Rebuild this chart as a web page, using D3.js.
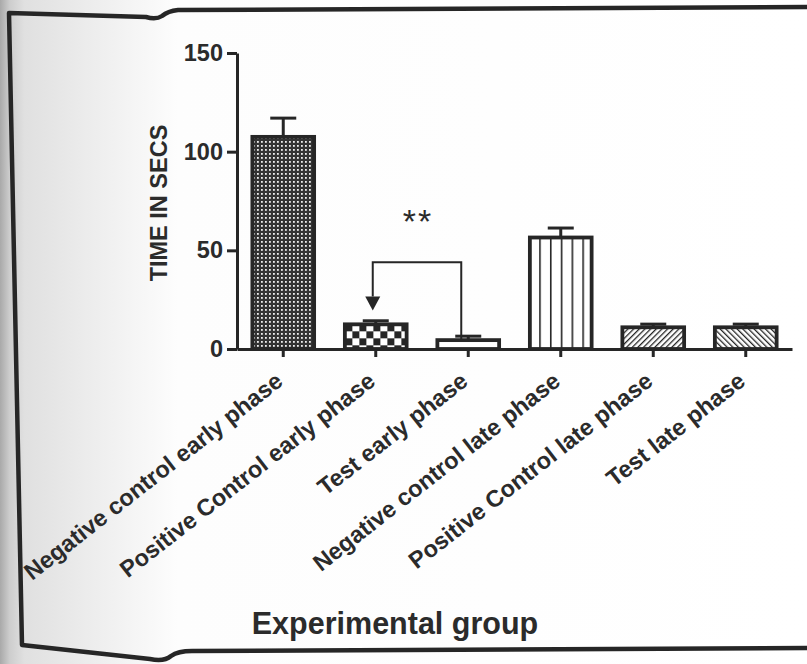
<!DOCTYPE html>
<html>
<head>
<meta charset="utf-8">
<script src="https://cdn.jsdelivr.net/npm/d3@7"></script>
<style>
  body { margin: 0; background: #fff; }
  svg text { font-family: "Liberation Sans", Arial, sans-serif; fill: #2b2b2b; }
</style>
</head>
<body>
<svg id="chart" width="807" height="664"></svg>
<script>
// groups, mean time and error bar (SEM)
const groups = ["Negative control early phase", "Positive Control early phase", "Test early phase",
  "Negative control late phase", "Positive Control late phase", "Test late phase"];
const meanTime = [107.5, 12.5, 4.5, 56.5, 11, 11];
const errTime = [9.5, 1.8, 2, 4.8, 1.6, 1.6];
const fillIds = ["fineCheck", "bigCheck", "plain", "vLines", "fwdHatch", "backHatch"];
const yTicks = [0, 50, 100, 150];

// significance bracket, positive control vs test (early phase)
const sigFrom = "Positive Control early phase";
const sigTo = "Test early phase";
const sigLevel = 44;
const sigArrowTip = 19.5;
const sigLabel = "**";

const ink = "#262626";
var svg = d3.select("#chart");

var x = d3.scaleBand()
  .domain(groups)
  .range([237, 792])
  .paddingInner(0.3)
  .paddingOuter(0.15);

var y = d3.scaleLinear()
  .domain([0, 150])
  .range([349, 53]);

var bw = x.bandwidth();

// ---- background (scan shading on the left) + paper frame
var defs = svg.append("defs");
var grad = defs.append("linearGradient").attr("id", "shade")
  .attr("x1", 0).attr("x2", 1).attr("y1", 0).attr("y2", 0);
grad.append("stop").attr("offset", "0").attr("stop-color", "#a9a9a9");
grad.append("stop").attr("offset", "0.012").attr("stop-color", "#cdcdcd");
grad.append("stop").attr("offset", "0.03").attr("stop-color", "#e0e0e0");
grad.append("stop").attr("offset", "0.14").attr("stop-color", "#f1f1f1");
grad.append("stop").attr("offset", "0.22").attr("stop-color", "#fdfdfd");
grad.append("stop").attr("offset", "1").attr("stop-color", "#ffffff");

svg.append("rect").attr("width", 807).attr("height", 664).attr("fill", "url(#shade)");

svg.append("path")
  .attr("d", "M807,7 L178,10 Q168,11 162,16 Q156,20 146,17 L9,13 L22,645 L150,659 Q164,662 171,656 Q178,651 192,651 L807,648")
  .attr("fill", "none")
  .attr("stroke", ink)
  .attr("stroke-width", 4.5)
  .attr("stroke-linejoin", "round");

// ---- fill patterns
var p = defs.append("pattern").attr("id", "fineCheck")
  .attr("patternUnits", "userSpaceOnUse").attr("width", 4).attr("height", 4);
p.append("rect").attr("width", 4).attr("height", 4).attr("fill", "#333");
p.append("rect").attr("x", 1).attr("y", 1).attr("width", 1.8).attr("height", 1.8).attr("fill", "#eee");

p = defs.append("pattern").attr("id", "bigCheck")
  .attr("patternUnits", "userSpaceOnUse").attr("width", 14).attr("height", 14)
  .attr("x", x(groups[1]) + 2).attr("y", y(meanTime[1]));
p.append("rect").attr("width", 14).attr("height", 14).attr("fill", "#fff");
p.append("rect").attr("width", 7).attr("height", 7).attr("fill", ink);
p.append("rect").attr("x", 7).attr("y", 7).attr("width", 7).attr("height", 7).attr("fill", ink);

p = defs.append("pattern").attr("id", "plain")
  .attr("patternUnits", "userSpaceOnUse").attr("width", 4).attr("height", 4);
p.append("rect").attr("width", 4).attr("height", 4).attr("fill", "#fff");

p = defs.append("pattern").attr("id", "vLines")
  .attr("patternUnits", "userSpaceOnUse").attr("width", bw / 6).attr("height", 10)
  .attr("x", x(groups[3]));
p.append("rect").attr("width", bw / 6).attr("height", 10).attr("fill", "#fff");
p.append("rect").attr("width", 1.6).attr("height", 10).attr("fill", ink);

[["fwdHatch", 45], ["backHatch", -45]].forEach(h => {
  var hp = defs.append("pattern").attr("id", h[0])
    .attr("patternUnits", "userSpaceOnUse").attr("width", 4).attr("height", 4)
    .attr("patternTransform", `rotate(${h[1]})`);
  hp.append("rect").attr("width", 4).attr("height", 4).attr("fill", "#fff");
  hp.append("rect").attr("width", 1.3).attr("height", 4).attr("fill", ink);
});

// ---- error bars
var errG = svg.append("g").attr("stroke", ink).attr("stroke-width", 3);
groups.forEach((g, i) => {
  var cx = x(g) + bw / 2;
  errG.append("line")
    .attr("x1", cx).attr("x2", cx)
    .attr("y1", y(meanTime[i])).attr("y2", y(meanTime[i] + errTime[i]));
  errG.append("line")
    .attr("x1", cx - 13).attr("x2", cx + 13)
    .attr("y1", y(meanTime[i] + errTime[i])).attr("y2", y(meanTime[i] + errTime[i]));
});

// ---- bars
svg.append("g").selectAll("rect")
  .data(groups)
  .enter()
  .append("rect")
  .attr("x", d => x(d) + 1.5)
  .attr("y", (d, i) => y(meanTime[i]))
  .attr("width", bw - 3)
  .attr("height", (d, i) => y(0) - y(meanTime[i]))
  .attr("fill", (d, i) => `url(#${fillIds[i]})`)
  .attr("stroke", ink)
  .attr("stroke-width", 3.8);

// ---- axes
var yAxis = svg.append("g")
  .attr("transform", `translate(${x.range()[0]},0)`)
  .attr("color", ink)
  .call(d3.axisLeft(y).tickValues(yTicks).tickSize(10).tickSizeOuter(0).tickPadding(4));
yAxis.selectAll("path, line").attr("stroke-width", 3);
yAxis.selectAll("text")
  .attr("font-family", "Liberation Sans, Arial, sans-serif")
  .attr("font-size", 23.5)
  .attr("font-weight", "bold");

var xAxis = svg.append("g")
  .attr("transform", `translate(0,${y(0)})`)
  .attr("color", ink)
  .call(d3.axisBottom(x).tickSize(8).tickSizeOuter(0).tickFormat(""));
xAxis.selectAll("path, line").attr("stroke-width", 3);

// rotated category labels
svg.append("g").selectAll("text")
  .data(groups)
  .enter()
  .append("text")
  .attr("transform", d => `translate(${x(d) + bw / 2 + 1},${y(0) + 35}) rotate(-38)`)
  .attr("text-anchor", "end")
  .attr("font-size", 23.5)
  .attr("font-weight", "bold")
  .text(d => d);

// axis titles
svg.append("text")
  .attr("transform", "translate(167,203) rotate(-90)")
  .attr("text-anchor", "middle")
  .attr("font-size", 23.5)
  .attr("font-weight", "bold")
  .text("TIME IN SECS");

svg.append("text")
  .attr("x", 395)
  .attr("y", 634)
  .attr("text-anchor", "middle")
  .attr("font-size", 30.5)
  .attr("font-weight", "bold")
  .text("Experimental group");

// ---- significance bracket with arrow
var xa = x(sigFrom) + bw / 2 - 3;
var xb = x(sigTo) + bw / 2 - 7;
var headTop = y(sigArrowTip) - 14;
svg.append("path")
  .attr("d", `M${xa},${headTop} V${y(sigLevel)} H${xb} V${y(meanTime[groups.indexOf(sigTo)])}`)
  .attr("fill", "none")
  .attr("stroke", ink)
  .attr("stroke-width", 2);
svg.append("path")
  .attr("d", `M${xa - 7.5},${headTop} L${xa + 7.5},${headTop} L${xa},${y(sigArrowTip)} Z`)
  .attr("fill", ink);

svg.append("text")
  .attr("x", (xa + xb) / 2 + 1)
  .attr("y", 233)
  .attr("text-anchor", "middle")
  .attr("font-size", 34)
  .attr("letter-spacing", 2)
  .text(sigLabel);
</script>
</body>
</html>
